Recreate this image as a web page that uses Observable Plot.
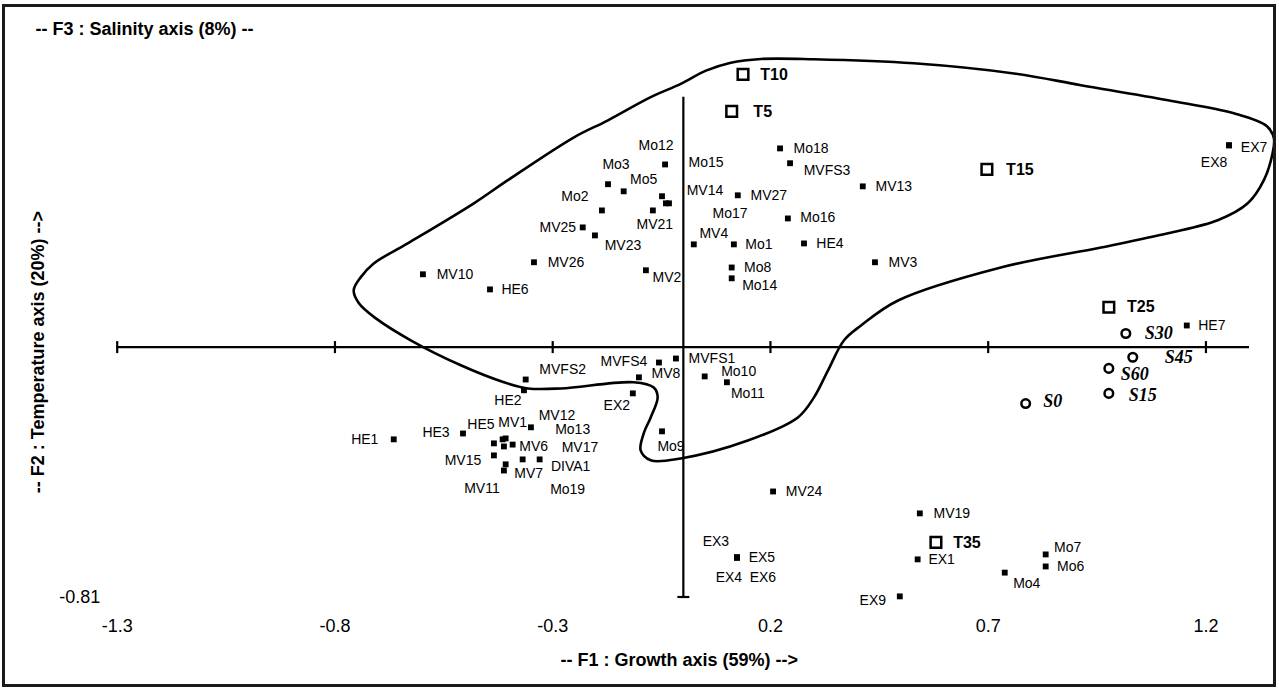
<!DOCTYPE html>
<html>
<head>
<meta charset="utf-8">
<script src="https://cdn.jsdelivr.net/npm/d3@7"></script>
<script src="https://cdn.jsdelivr.net/npm/@observablehq/plot@0.6"></script>
<style>
  html, body { margin: 0; padding: 0; background: #fff; }
  #wrap { position: relative; width: 1279px; height: 689px; overflow: hidden; background: #fff; }
  #border { position: absolute; left: 2px; top: 4px; width: 1274px; height: 683px; box-sizing: border-box; border: 3px solid #1a1a1a; pointer-events: none; }
</style>
</head>
<body>
<div id="wrap"><div id="border"></div></div>
<script>
// ---- Axis ticks / extents ----
const xTicks = [-1.3, -0.8, -0.3, 0.2, 0.7, 1.2];
const yTicks = [-0.81];
const xDomain = [-1.3, 1.3];
const yDomain = [-0.81, 0.81];

// ---- Strains (filled squares) ----
const strainNames = ["Mo12","Mo3","Mo5","Mo2","Mo15","MV14","Mo17","MV21","MV25","MV23","MV26","MV10","HE6","MV2","MV4","Mo1","Mo8","Mo14","MV27","Mo18","MVFS3","MV13","Mo16","HE4","MV3","EX7","EX8","HE7","HE1","HE3","HE5","MV1","Mo13","MV17","MV6","MV12","MV15","MV7","MV11","Mo19","DIVA1","HE2","MVFS2","MVFS4","MV8","MVFS1","EX2","Mo9","Mo10","Mo11","MV24","MV19","EX1","EX5","EX3","EX4","EX6","Mo7","Mo6","Mo4","EX9"];
const strainF1 = [-0.042,-0.173,-0.137,-0.187,-0.049,-0.040,-0.033,-0.070,-0.231,-0.203,-0.343,-0.598,-0.444,-0.086,0.024,0.116,0.111,0.111,0.125,0.222,0.245,0.412,0.240,0.277,0.440,1.253,1.253,1.156,-0.665,-0.506,-0.435,-0.415,-0.408,-0.412,-0.392,-0.350,-0.435,-0.408,-0.412,-0.369,-0.330,-0.366,-0.362,-0.056,-0.102,-0.017,-0.116,-0.049,0.049,0.100,0.206,0.543,0.538,0.123,0.123,0.123,0.123,0.832,0.832,0.738,0.497];
const strainF2 = [0.592,0.528,0.505,0.443,0.489,0.466,0.466,0.443,0.388,0.362,0.275,0.236,0.187,0.249,0.333,0.333,0.258,0.223,0.492,0.644,0.596,0.521,0.417,0.336,0.275,0.654,0.654,0.070,-0.299,-0.280,-0.312,-0.299,-0.296,-0.322,-0.316,-0.260,-0.351,-0.380,-0.400,-0.364,-0.364,-0.140,-0.105,-0.050,-0.098,-0.037,-0.150,-0.273,-0.095,-0.114,-0.468,-0.539,-0.688,-0.682,-0.682,-0.682,-0.682,-0.672,-0.711,-0.731,-0.808];

// ---- Temperatures (open squares) ----
const tempNames = ["T10","T5","T15","T25","T35"];
const tempF1 = [0.137, 0.111, 0.697, 0.977, 0.580];
const tempF2 = [0.884, 0.764, 0.576, 0.129, -0.633];

// ---- Salinities (open circles) ----
const salNames = ["S30","S45","S60","S15","S0"];
const salF1 = [1.016, 1.032, 0.977, 0.977, 0.786];
const salF2 = [0.044, -0.033, -0.069, -0.150, -0.183];

// ---- Envelope outline (closed curve) ----
const envF1 = [-0.757,-0.741,-0.711,-0.633,-0.481,-0.403,-0.251,-0.173,-0.075,-0.006,0.052,0.109,0.178,0.300,0.529,0.759,0.913,1.113,1.264,1.340,1.356,1.353,1.333,1.296,1.227,1.113,0.959,0.729,0.493,0.408,0.369,0.332,0.300,0.263,0.148,-0.006,-0.075,-0.098,-0.091,-0.075,-0.059,-0.068,-0.114,-0.281,-0.357,-0.412,-0.511,-0.626,-0.706,-0.745];
const envF2 = [0.184,0.226,0.271,0.336,0.466,0.541,0.680,0.735,0.810,0.853,0.896,0.922,0.934,0.933,0.920,0.887,0.849,0.800,0.758,0.716,0.677,0.628,0.541,0.466,0.411,0.369,0.323,0.258,0.151,0.070,0.022,-0.076,-0.163,-0.228,-0.303,-0.361,-0.367,-0.335,-0.280,-0.228,-0.163,-0.131,-0.114,-0.134,-0.134,-0.114,-0.059,0.022,0.093,0.142];

// ---- Text ----
const titleF3 = "-- F3 : Salinity axis (8%) --";
const titleF1 = "-- F1 : Growth axis (59%) -->";
const titleF2 = "-- F2 : Temperature axis (20%) -->";

// ---- Label placement (pixel offsets from marker; styling only) ----
const labelOffset = {
  Mo12:[-9,-19], Mo3:[8,-20], Mo5:[20,-12], Mo2:[-27,-14], Mo15:[44,-34], MV14:[39,-13], Mo17:[61,10],
  MV21:[2,14], MV25:[-25,0], MV23:[28,10], MV26:[32,0], MV10:[32,0], HE6:[25,0], MV2:[21,7], MV4:[20,-11],
  Mo1:[25,0], Mo8:[26,0], Mo14:[28,7], MV27:[31,0], Mo18:[31,0], MVFS3:[37,7], MV13:[31,0], Mo16:[30,-1],
  HE4:[26,0], MV3:[28,0], EX7:[25,2], EX8:[-15,17], HE7:[25,0], HE1:[-29,0], HE3:[-27,-1], HE5:[-13,-19],
  MV1:[10,-17], MV12:[26,-12], Mo13:[67,-9], MV6:[21,2], MV17:[76,1], MV15:[-31,5], MV7:[23,9],
  DIVA1:[31,7], MV11:[-22,18], Mo19:[45,30], HE2:[-16,10], MVFS2:[37,-10], MVFS4:[-35,-1], MV8:[27,-4],
  MVFS1:[36,0], EX2:[-16,12], Mo9:[9,15], Mo10:[34,-5], Mo11:[21,11], MV24:[31,0], MV19:[32,0], EX1:[24,0],
  EX5:[25,0], EX3:[-21,-16], EX4:[-8,20], EX6:[26,20], Mo7:[22,-7], Mo6:[25,0], Mo4:[22,11], EX9:[-27,4],
  T10:[31,1], T5:[31,0], T15:[33,0], T25:[32,0], T35:[31,0],
  S30:[33,0], S45:[46,0], S60:[26,6], S15:[34,2], S0:[27,-2]
};

const zip = (names, a, b) => names.map((n, i) => ({name: n, f1: a[i], f2: b[i]}));
const strains = zip(strainNames, strainF1, strainF2);
const temps = zip(tempNames, tempF1, tempF2);
const sals = zip(salNames, salF1, salF2);
const envelope = envF1.map((v, i) => ({f1: v, f2: envF2[i]}));

const vTick = {draw(ctx) { ctx.moveTo(0, -6); ctx.lineTo(0, 6); }};
const hTick = {draw(ctx) { ctx.moveTo(-6, 0); ctx.lineTo(6, 0); }};

const labelMarks = (data, opts) => data.map(d => Plot.text([d], {
  x: "f1", y: "f2", text: "name",
  dx: labelOffset[d.name][0], dy: labelOffset[d.name][1], ...opts
}));

const chart = Plot.plot({
  width: 1279,
  height: 689,
  marginLeft: 116.7,
  marginRight: 30,
  marginTop: 96.7,
  marginBottom: 92.5,
  x: {domain: xDomain},
  y: {domain: yDomain},
  style: {fontFamily: "'Liberation Sans', Arial, sans-serif", background: "transparent", overflow: "visible", color: "black"},
  marks: [
    Plot.axisX({ticks: xTicks, tickSize: 0, tickPadding: 22, fontSize: 18, tickFormat: d => String(d), label: null}),
    Plot.axisY({ticks: yTicks, tickSize: 0, tickPadding: 17, fontSize: 18, tickFormat: d => String(d), label: null}),
    Plot.ruleY([0], {x1: xDomain[0], x2: xDomain[1], stroke: "black", strokeWidth: 2.2}),
    Plot.ruleX([0], {y1: yDomain[0], y2: yDomain[1], stroke: "black", strokeWidth: 2.2}),
    Plot.dot(xTicks, {x: d => d, y: 0, symbol: vTick, stroke: "black", strokeWidth: 2.2, fill: "none"}),
    Plot.dot([yDomain[0]], {x: 0, y: d => d, symbol: hTick, stroke: "black", strokeWidth: 2.2, fill: "none"}),
    Plot.line(envelope, {x: "f1", y: "f2", curve: "catmull-rom-closed", stroke: "black", strokeWidth: 2.6}),
    Plot.dot(strains, {x: "f1", y: "f2", symbol: "square", r: 3.3, fill: "black"}),
    Plot.dot(temps, {x: "f1", y: "f2", symbol: "square", r: 6.0, stroke: "black", strokeWidth: 2.5, fill: "none"}),
    Plot.dot(sals, {x: "f1", y: "f2", symbol: "circle", r: 4.3, stroke: "black", strokeWidth: 2.5, fill: "none"}),
    ...labelMarks(strains, {fontSize: 14}),
    ...labelMarks(temps, {fontSize: 16, fontWeight: "bold"}),
    ...labelMarks(sals, {fontSize: 18, fontWeight: "bold", fontStyle: "italic", fontFamily: "'Liberation Serif', 'Times New Roman', serif"}),
    Plot.text([titleF3], {text: d => d, frameAnchor: "top-left", dx: -81.7, dy: -75, textAnchor: "start", fontSize: 18, fontWeight: "bold"}),
    Plot.text([titleF1], {text: d => d, frameAnchor: "bottom", dx: -4, dy: 69, textAnchor: "middle", fontSize: 18, fontWeight: "bold"}),
    Plot.text([titleF2], {text: d => d, frameAnchor: "left", dx: -79, dy: 5, rotate: -90, textAnchor: "middle", fontSize: 18, fontWeight: "bold"})
  ]
});
document.getElementById("wrap").insertBefore(chart, document.getElementById("border"));
</script>
</body>
</html>
